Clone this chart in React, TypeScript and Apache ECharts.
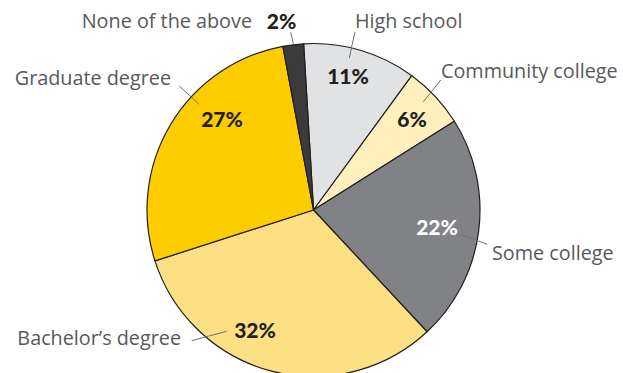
import { useEffect, useRef } from 'react';
import * as echarts from 'echarts';

// ---- data ----
const categories = ['High school', 'Community college', 'Some college', 'Bachelor’s degree', 'Graduate degree', 'None of the above'];
const shares = [11, 6, 22, 32, 27, 2];

// ---- styles / layout ----
const sliceColors = ['#e1e2e4', '#fff0bd', '#808285', '#fee084', '#fdcd00', '#3b3b3c'];
const pctColors = ['#231f20', '#231f20', '#ffffff', '#231f20', '#231f20', '#231f20'];
const CENTER: [number, number] = [313.5, 210];
const RADIUS = 166.5;
const START_ANGLE = 93.4;
const pctPos: [number, number][] = [[348, 75], [412, 118], [437, 226], [255, 329], [222, 118], [281.5, 20]];
const namePos: { x: number; y: number; align: 'left' | 'right' }[] = [
  { x: 355, y: 20, align: 'left' },
  { x: 441, y: 70, align: 'left' },
  { x: 492, y: 252, align: 'left' },
  { x: 181, y: 337, align: 'right' },
  { x: 171, y: 77, align: 'right' },
  { x: 252, y: 20, align: 'right' },
];
const leaderLines: [number, number][][] = [
  [[355, 32], [352, 45], [349.3, 58.3]],
  [[440.7, 80], [432, 91], [423.3, 101.7]],
  [[461.7, 235], [474.5, 239.6], [487.3, 244.3]],
  [[191.7, 340.7], [209, 336], [226.7, 331.3]],
  [[179.3, 86], [189, 95], [199, 104.3]],
  [[290.7, 32.3], [292, 38], [293.3, 43.5]],
];

export default function App() {
  const ref = useRef<HTMLDivElement>(null);
  useEffect(() => {
    if (!ref.current) return;
    const chart = echarts.init(ref.current, undefined, { renderer: 'svg' });
    const dataItems = categories.map((name, i) => ({
      name,
      value: shares[i],
      itemStyle: { color: sliceColors[i] },
      label: { color: pctColors[i] },
    }));
    chart.setOption({
      animation: false,
      backgroundColor: '#ffffff',
      series: [
        {
          type: 'pie',
          center: CENTER,
          radius: RADIUS,
          startAngle: START_ANGLE,
          clockwise: true,
          avoidLabelOverlap: false,
          silent: true,
          emphasis: { disabled: true },
          itemStyle: { borderColor: '#231f20', borderWidth: 1.2 },
          label: {
            show: true,
            position: 'inside',
            formatter: (p: any) => `${p.value}%`,
            fontFamily: 'Lato',
            fontWeight: 900,
            fontSize: 21,
          },
          labelLine: { show: false },
          labelLayout: (p: any) => ({
            x: pctPos[p.dataIndex][0],
            y: pctPos[p.dataIndex][1],
            align: 'center',
            verticalAlign: 'middle',
          }),
          data: dataItems,
        },
        {
          type: 'pie',
          center: CENTER,
          radius: RADIUS,
          startAngle: START_ANGLE,
          clockwise: true,
          avoidLabelOverlap: false,
          silent: true,
          z: 3,
          emphasis: { disabled: true },
          itemStyle: { color: 'rgba(0,0,0,0)', borderWidth: 0 },
          label: {
            show: true,
            position: 'outside',
            formatter: '{b}',
            fontFamily: 'Open Sans',
            fontSize: 19.8,
            color: '#58595b',
          },
          labelLine: { show: true, lineStyle: { color: '#6d6e71', width: 1 } },
          labelLayout: (p: any) => ({
            x: namePos[p.dataIndex].x,
            y: namePos[p.dataIndex].y,
            align: namePos[p.dataIndex].align,
            verticalAlign: 'middle',
            labelLinePoints: leaderLines[p.dataIndex],
          }),
          data: categories.map((name, i) => ({ name, value: shares[i] })),
        },
      ],
    });
    return () => chart.dispose();
  }, []);
  return <div ref={ref} style={{ position: 'fixed', left: 0, top: 0, width: 623, height: 373 }} />;
}
